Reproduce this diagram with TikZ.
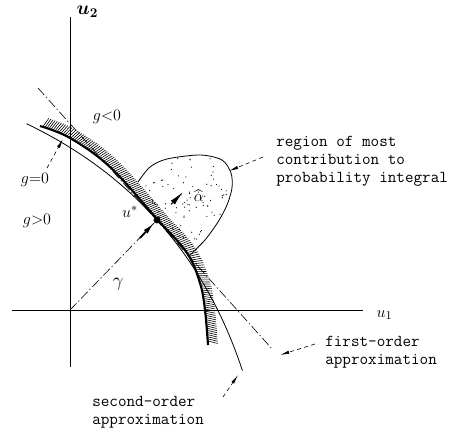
\documentclass[tikz,border=0pt]{standalone}
\usepackage{amsmath}
\usepackage{bm}
\usetikzlibrary{calc, arrows.meta, decorations.markings}

\begin{document}
\begin{tikzpicture}[
  x=0.75pt, y=0.75pt,
  axis/.style={black, line width=0.6pt},
  dashdot/.style={black, line width=0.45pt, dash pattern=on 7pt off 2pt on 1pt off 2pt},
  leader/.style={black, line width=0.45pt, dash pattern=on 3pt off 2.5pt,
    -{Latex[length=7pt, width=2.4pt]}},
  lbl/.style={font=\fontsize{13}{15}\selectfont},
  note/.style={font=\fontsize{12.5}{13.5}\selectfont\ttfamily, align=left,
    anchor=north west, inner sep=0pt},
  hatched/.style={postaction={decorate}, decoration={markings,
    mark=between positions 0.01 and 0.99 step 1.6pt with
    {\draw[line width=0.45pt] (0,0) -- (72:7.8pt);}}},
]

% Rahmen
\useasboundingbox (-70,-122) rectangle (391,310);

% Achsen
\draw[axis] (-58,0) -- (293,0);
\draw[axis] (0,-57) -- (0,293);
\node[lbl, anchor=west] (u1) at (302,-5) {$u_1$};
\node[font=\fontsize{14}{16}\selectfont, anchor=west] (u2) at (2,298) {$\bm{u_2}$};

% Bemessungspunkt
\coordinate (O) at (0,0);
\coordinate (ustar) at (87,90);

% Bereich des groessten Beitrags (punktiert)
\begin{scope}
  \clip plot[smooth] coordinates {(68,128) (80,143) (97,151) (130,155)
    (152,150) (161,137) (162,122) (157,105) (148,88) (135,70) (120,55)}
    -- (87,92) -- cycle;
  \pgfmathsetseed{11}
  \foreach \i in {1,...,170}
    \fill ({62+102*rnd},{52+106*rnd}) circle[radius=0.45pt];
\end{scope}
\draw[line width=0.6pt] plot[smooth] coordinates {(68,128) (80,143) (97,151)
  (130,155) (152,150) (161,137) (162,122) (157,105) (148,88) (135,70) (120,55)};

% Naeherung erster Ordnung (Tangente)
\coordinate (T1) at (-32,222);
\coordinate (T2) at (203,-40);
\draw[dashdot] (T1) -- (T2);

% Naeherung zweiter Ordnung
\draw[line width=0.6pt] plot[domain=-159:169, samples=60, smooth]
  ({87+0.668*(\x)-0.000967*(\x)*(\x)},{90-0.744*(\x)-0.000868*(\x)*(\x)});

% Grenzzustand g=0, schraffiert
\draw[line width=1.6pt, hatched] plot[smooth, tension=0.6] coordinates
  {(-30,184) (0,172) (40,143) (87,91) (117,57) (130,27) (135,0) (138,-35)};

% Abstand gamma
\draw[dashdot] (O) -- (ustar);
\coordinate (gtail) at (70,72);
\coordinate (ghead) at (84,87);
\draw[line width=1.4pt, -{Latex[length=9pt, width=4pt]}] (gtail) -- (ghead);
\fill (ustar) circle[radius=2.6pt];

% Normalenvektor alpha
\coordinate (atail) at (101,105.5);
\coordinate (ahead) at (113,118);
\draw[line width=0.8pt, -{Latex[length=11pt, width=4.2pt]}] (atail) -- (ahead);

% Beschriftungen
\node[lbl] (gneg) at (37,193) {$g{<}0$};
\node[lbl] (gzero) at (-35,130) {$g{=}0$};
\node[lbl] (gpos) at (-33,89) {$g{>}0$};
\node[lbl] (ulbl) at (60,98) {$u^*$};
\node[font=\fontsize{15}{16}\selectfont] (gam) at (48,26) {$\gamma$};
\node[lbl] (alp) at (129,114) {$\widehat{\alpha}$};

\node[note] (region) at (206,174) {region of most\\contribution to\\probability integral};
\node[note] (first) at (255,-26) {first-order\\approximation};
\node[note] (second) at (22,-86) {second-order\\approximation};

% Hinweispfeile
\coordinate (r1) at (193,153);
\coordinate (r2) at (159,139);
\draw[leader] (r1) -- (r2);
\coordinate (z1) at (-23,142);
\coordinate (z2) at (-7,171);
\draw[leader] (z1) -- (z2);
\coordinate (f1) at (245,-34);
\coordinate (f2) at (210,-45);
\draw[leader] (f1) -- (f2);
\coordinate (s1) at (153,-87);
\coordinate (s2) at (168,-65);
\draw[leader] (s1) -- (s2);

\end{tikzpicture}
\end{document}
